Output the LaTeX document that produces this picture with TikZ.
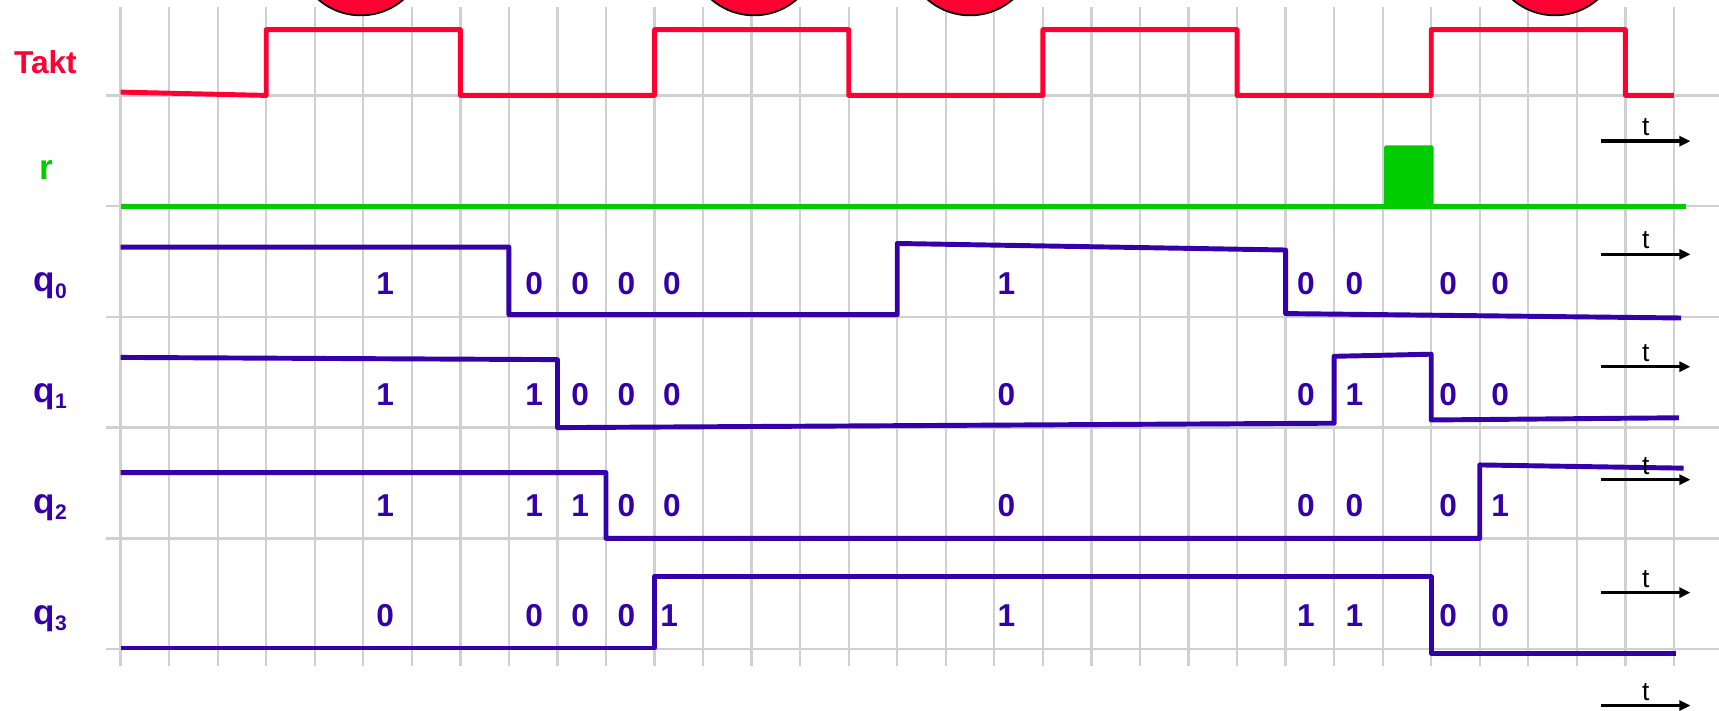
\documentclass[tikz,border=0pt]{standalone}
\usepackage{fontspec}
\setmainfont{Liberation Sans}
\usetikzlibrary{arrows.meta}

\definecolor{taktred}{RGB}{255,0,51}
\definecolor{rgreen}{RGB}{0,204,0}
\definecolor{qpurple}{RGB}{51,0,170}
\definecolor{gridgray}{RGB}{208,208,208}

\begin{document}
\begin{tikzpicture}[
	x=0.9708cm, y=2.2146cm,
	gridline/.style={draw=gridgray, line width=1.3pt},
	takt/.style={draw=taktred, line width=2.8pt, line join=round},
	rline/.style={draw=rgreen, line width=2.8pt},
	sig/.style={draw=qpurple, line width=2.8pt, line join=round},
	marker/.style={fill=taktred, draw=black, line width=1pt},
	signame/.style={font=\fontsize{20}{24}\selectfont\bfseries, anchor=base, inner sep=0pt},
	bit/.style={font=\fontsize{18}{21}\selectfont\bfseries, text=qpurple, anchor=base, inner sep=0pt},
	tarr/.style={-{Triangle[length=0.22cm, width=0.2cm]}, line width=2pt},
	tlab/.style={font=\fontsize{15}{18}\selectfont, above=2pt, inner sep=0pt}
	]
	\useasboundingbox (-2.4845,-5.552) rectangle (32.929,0.8618);

	% raster
	\draw[gridline] (0,-5.15) grid[xstep=1, ystep=10] (32,0.8);
	\draw[gridline] (-0.3,-5) grid[xstep=100, ystep=1] (32.93,0);

	% Taktflanken
	\draw[marker] (4.95,1.31) circle[radius=1.3cm];
	\draw[marker] (13.05,1.31) circle[radius=1.3cm];
	\draw[marker] (17.5,1.31) circle[radius=1.3cm];
	\draw[marker] (29.55,1.31) circle[radius=1.3cm];

	\node[signame, text=taktred, font=\fontsize{18}{21}\selectfont\bfseries] (takt) at (-1.55,0.2) {Takt};
	\node[signame, text=rgreen] (r) at (-1.54,-0.758) {r};
	\node[signame, text=qpurple] (q0) at (-1.45,-1.775) {q\raisebox{-3.5pt}{\fontsize{12}{12}\selectfont 0}};
	\node[signame, text=qpurple] (q1) at (-1.45,-2.775) {q\raisebox{-3.5pt}{\fontsize{12}{12}\selectfont 1}};
	\node[signame, text=qpurple] (q2) at (-1.45,-3.775) {q\raisebox{-3.5pt}{\fontsize{12}{12}\selectfont 2}};
	\node[signame, text=qpurple] (q3) at (-1.45,-4.775) {q\raisebox{-3.5pt}{\fontsize{12}{12}\selectfont 3}};

	% signale
	\draw[takt] (0,0.03) -- (3,0) -- (3,0.594) -- (7,0.594) -- (7,0) -- (11,0) -- (11,0.594)
		-- (15,0.594) -- (15,0) -- (19,0) -- (19,0.594) -- (23,0.594) -- (23,0) -- (27,0)
		-- (27,0.594) -- (31,0.594) -- (31,0) -- (32,0);
	\draw[rline] (0,-1) -- (32.24,-1);
	\fill[rgreen, rounded corners=1pt] (26.03,-1) rectangle (27.05,-0.45);
	\draw[sig] (0,-1.37) -- (8,-1.37) -- (8,-1.98) -- (16,-1.98) -- (16,-1.337) -- (24,-1.396)
		-- (24,-1.97) -- (32.15,-2.01);
	\draw[sig] (0,-2.366) -- (9,-2.386) -- (9,-3) -- (25,-2.96) -- (25,-2.356) -- (27,-2.337)
		-- (27,-2.931) -- (32.1,-2.911);
	\draw[sig] (0,-3.406) -- (10,-3.406) -- (10,-4) -- (28,-4) -- (28,-3.337) -- (32.2,-3.366);
	\draw[sig] (0,-4.99) -- (11,-4.99) -- (11,-4.347) -- (27,-4.347) -- (27,-5.04) -- (32.05,-5.04);

	% zustaende
	\foreach \x/\b [count=\i] in {5.45/1,8.52/0,9.47/0,10.42/0,11.36/0,18.25/1,24.42/0,25.42/0,27.35/0,28.42/0}
		\node[bit] (b0\i) at (\x,-1.80) {\b};
	\foreach \x/\b [count=\i] in {5.45/1,8.52/1,9.47/0,10.42/0,11.36/0,18.25/0,24.42/0,25.42/1,27.35/0,28.42/0}
		\node[bit] (b1\i) at (\x,-2.80) {\b};
	\foreach \x/\b [count=\i] in {5.45/1,8.52/1,9.47/1,10.42/0,11.36/0,18.25/0,24.42/0,25.42/0,27.35/0,28.42/1}
		\node[bit] (b2\i) at (\x,-3.80) {\b};
	\foreach \x/\b [count=\i] in {5.45/0,8.52/0,9.47/0,10.42/0,11.3/1,18.25/1,24.42/1,25.42/1,27.35/0,28.42/0}
		\node[bit] (b3\i) at (\x,-4.80) {\b};

	% zeitachsen
	\draw[tarr] (30.5,-0.413) -- (32.34,-0.413) node[tlab, midway] (t0) {t};
	\draw[tarr] (30.5,-1.435) -- (32.34,-1.435) node[tlab, midway] (t1) {t};
	\draw[tarr] (30.5,-2.45) -- (32.34,-2.45) node[tlab, midway] (t2) {t};
	\draw[tarr] (30.5,-3.47) -- (32.34,-3.47) node[tlab, midway] (t3) {t};
	\draw[tarr] (30.5,-4.49) -- (32.34,-4.49) node[tlab, midway] (t4) {t};
	\draw[tarr] (30.5,-5.51) -- (32.34,-5.51) node[tlab, midway] (t5) {t};
\end{tikzpicture}
\end{document}
